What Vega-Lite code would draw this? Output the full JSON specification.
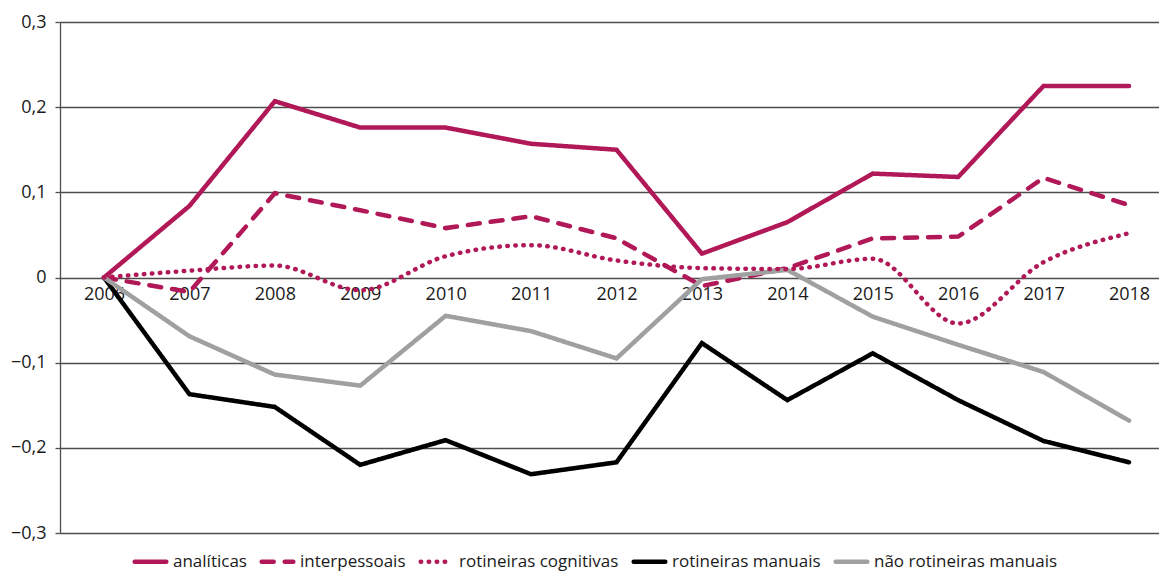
{
  "$schema": "https://vega.github.io/schema/vega-lite/v6.json",
  "width": 1099,
  "height": 511,
  "autosize": "none",
  "padding": {"left": 60, "top": 22, "right": 0, "bottom": 39},
  "background": "white",
  "config": {
    "font": "Open Sans",
    "view": {"stroke": null},
    "axis": {"labelFont": "Open Sans", "labelColor": "#1a1a1a"}
  },
  "data": {
    "values": [
      {"year": 2006, "s": "analíticas", "v": 0},
      {"year": 2007, "s": "analíticas", "v": 0.084},
      {"year": 2008, "s": "analíticas", "v": 0.207},
      {"year": 2009, "s": "analíticas", "v": 0.176},
      {"year": 2010, "s": "analíticas", "v": 0.176},
      {"year": 2011, "s": "analíticas", "v": 0.157},
      {"year": 2012, "s": "analíticas", "v": 0.150},
      {"year": 2013, "s": "analíticas", "v": 0.028},
      {"year": 2014, "s": "analíticas", "v": 0.065},
      {"year": 2015, "s": "analíticas", "v": 0.122},
      {"year": 2016, "s": "analíticas", "v": 0.118},
      {"year": 2017, "s": "analíticas", "v": 0.225},
      {"year": 2018, "s": "analíticas", "v": 0.225},
      {"year": 2006, "s": "interpessoais", "v": 0},
      {"year": 2007, "s": "interpessoais", "v": -0.017},
      {"year": 2008, "s": "interpessoais", "v": 0.099},
      {"year": 2009, "s": "interpessoais", "v": 0.079},
      {"year": 2010, "s": "interpessoais", "v": 0.058},
      {"year": 2011, "s": "interpessoais", "v": 0.072},
      {"year": 2012, "s": "interpessoais", "v": 0.046},
      {"year": 2013, "s": "interpessoais", "v": -0.010},
      {"year": 2014, "s": "interpessoais", "v": 0.011},
      {"year": 2015, "s": "interpessoais", "v": 0.046},
      {"year": 2016, "s": "interpessoais", "v": 0.048},
      {"year": 2017, "s": "interpessoais", "v": 0.117},
      {"year": 2018, "s": "interpessoais", "v": 0.085},
      {"year": 2006, "s": "rotineiras cognitivas", "v": 0},
      {"year": 2007, "s": "rotineiras cognitivas", "v": 0.008},
      {"year": 2008, "s": "rotineiras cognitivas", "v": 0.014},
      {"year": 2009, "s": "rotineiras cognitivas", "v": -0.015},
      {"year": 2010, "s": "rotineiras cognitivas", "v": 0.025},
      {"year": 2011, "s": "rotineiras cognitivas", "v": 0.038},
      {"year": 2012, "s": "rotineiras cognitivas", "v": 0.020},
      {"year": 2013, "s": "rotineiras cognitivas", "v": 0.011},
      {"year": 2014, "s": "rotineiras cognitivas", "v": 0.010},
      {"year": 2015, "s": "rotineiras cognitivas", "v": 0.022},
      {"year": 2016, "s": "rotineiras cognitivas", "v": -0.054},
      {"year": 2017, "s": "rotineiras cognitivas", "v": 0.018},
      {"year": 2018, "s": "rotineiras cognitivas", "v": 0.052},
      {"year": 2006, "s": "rotineiras manuais", "v": 0},
      {"year": 2007, "s": "rotineiras manuais", "v": -0.137},
      {"year": 2008, "s": "rotineiras manuais", "v": -0.152},
      {"year": 2009, "s": "rotineiras manuais", "v": -0.220},
      {"year": 2010, "s": "rotineiras manuais", "v": -0.191},
      {"year": 2011, "s": "rotineiras manuais", "v": -0.231},
      {"year": 2012, "s": "rotineiras manuais", "v": -0.217},
      {"year": 2013, "s": "rotineiras manuais", "v": -0.077},
      {"year": 2014, "s": "rotineiras manuais", "v": -0.144},
      {"year": 2015, "s": "rotineiras manuais", "v": -0.089},
      {"year": 2016, "s": "rotineiras manuais", "v": -0.144},
      {"year": 2017, "s": "rotineiras manuais", "v": -0.192},
      {"year": 2018, "s": "rotineiras manuais", "v": -0.217},
      {"year": 2006, "s": "não rotineiras manuais", "v": 0},
      {"year": 2007, "s": "não rotineiras manuais", "v": -0.069},
      {"year": 2008, "s": "não rotineiras manuais", "v": -0.114},
      {"year": 2009, "s": "não rotineiras manuais", "v": -0.127},
      {"year": 2010, "s": "não rotineiras manuais", "v": -0.045},
      {"year": 2011, "s": "não rotineiras manuais", "v": -0.063},
      {"year": 2012, "s": "não rotineiras manuais", "v": -0.095},
      {"year": 2013, "s": "não rotineiras manuais", "v": -0.002},
      {"year": 2014, "s": "não rotineiras manuais", "v": 0.009},
      {"year": 2015, "s": "não rotineiras manuais", "v": -0.046},
      {"year": 2016, "s": "não rotineiras manuais", "v": -0.079},
      {"year": 2017, "s": "não rotineiras manuais", "v": -0.111},
      {"year": 2018, "s": "não rotineiras manuais", "v": -0.168}
    ]
  },
  "encoding": {
    "x": {
      "field": "year", "type": "quantitative",
      "scale": {"domain": [2005.485, 2018.351], "nice": false, "zero": false},
      "axis": {
        "title": null, "grid": false, "domain": false, "ticks": false,
        "values": [2006,2007,2008,2009,2010,2011,2012,2013,2014,2015,2016,2017,2018],
        "format": "d", "offset": -255.5, "labelPadding": 8,
        "labelFontSize": 18, "labelFlush": false
      }
    },
    "y": {
      "field": "v", "type": "quantitative",
      "scale": {"domain": [-0.3, 0.3], "nice": false},
      "axis": {
        "title": null, "values": [-0.3,-0.2,-0.1,0,0.1,0.2,0.3],
        "labelExpr": "datum.value == 0 ? '0' : replace(format(datum.value, '.1f'), '.', ',')",
        "grid": true, "gridColor": "#4d4d4d", "gridWidth": 1.3, "gridOpacity": 1,
        "domain": true, "domainColor": "#4d4d4d", "domainWidth": 1.3,
        "tickColor": "#4d4d4d", "tickSize": 5, "tickWidth": 1.3,
        "labelPadding": 9, "labelFontSize": 18
      }
    },
    "color": {
      "field": "s", "type": "nominal",
      "scale": {
        "domain": ["analíticas","interpessoais","rotineiras cognitivas","rotineiras manuais","não rotineiras manuais"],
        "range": ["#B11857","#B11857","#B11857","#000000","#A0A0A0"]
      },
      "legend": {
        "title": null, "orient": "none", "direction": "horizontal",
        "legendX": 72, "legendY": 521,
        "symbolType": "stroke", "symbolSize": 1000, "symbolStrokeWidth": 4.5,
        "labelFontSize": 17, "labelColor": "#1a1a1a", "labelLimit": 400,
        "columnPadding": 5, "labelOffset": 4,
        "encode": {"symbols": {"update": {"strokeCap": {"value": "round"}}}}
      }
    },
    "strokeDash": {
      "field": "s", "type": "nominal",
      "scale": {
        "domain": ["analíticas","interpessoais","rotineiras cognitivas","rotineiras manuais","não rotineiras manuais"],
        "range": [[1,0],[12,11],[0.5,7.5],[1,0],[1,0]]
      },
      "legend": null
    }
  },
  "layer": [
    {
      "transform": [{"filter": "datum.s != 'rotineiras cognitivas'"}],
      "mark": {"type": "line", "strokeWidth": 4.5, "strokeCap": "round", "strokeJoin": "miter"}
    },
    {
      "transform": [{"filter": "datum.s == 'rotineiras cognitivas'"}],
      "mark": {"type": "line", "strokeWidth": 4.5, "strokeCap": "round", "interpolate": "monotone"}
    }
  ]
}
